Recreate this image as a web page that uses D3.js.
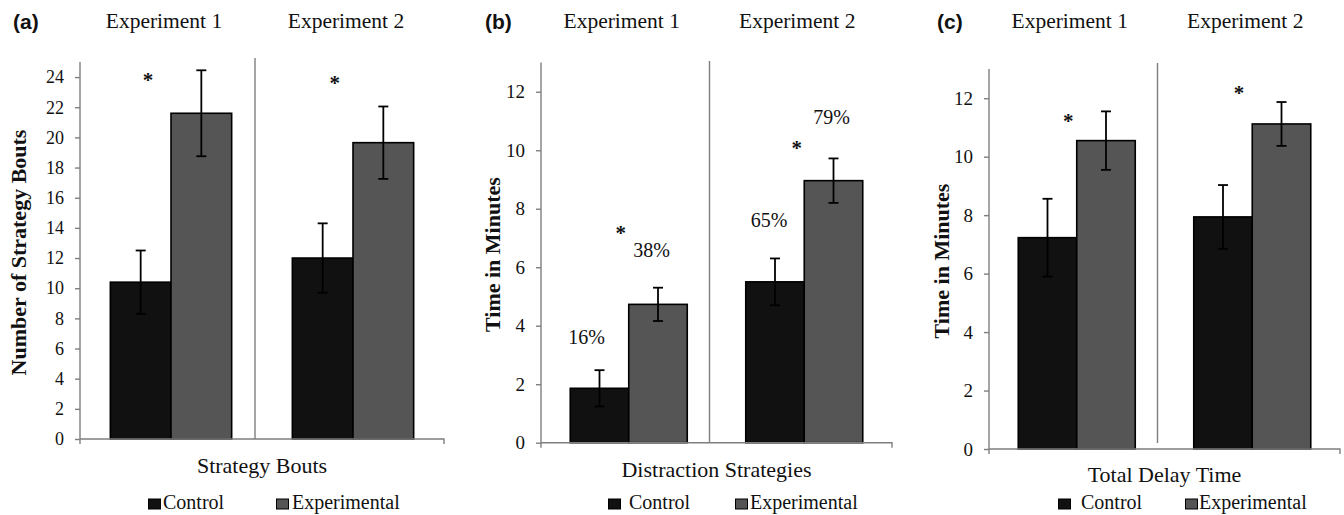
<!DOCTYPE html>
<html>
<head>
<meta charset="utf-8">
<script src="https://cdn.jsdelivr.net/npm/d3@7"></script>
<style>
  body { margin: 0; background: #fff; }
  svg { display: block; }
  text { font-family: "Liberation Serif", "Times New Roman", serif; fill: #111; }
</style>
</head>
<body>
<svg id="chart" width="1344" height="515"></svg>
<script>
var groups = ["Experiment 1", "Experiment 2"];
var series = ["Control", "Experimental"];

// (a) number of strategy bouts, [group][series]
var boutsMean = [[10.4, 21.6], [12.0, 19.65]];
var boutsErr = [[2.1, 2.85], [2.3, 2.4]];
var boutsTicks = d3.range(0, 25, 2);

// (b) time in distraction strategies (minutes)
var distrMean = [[1.86, 4.73], [5.5, 8.96]];
var distrErr = [[0.62, 0.57], [0.8, 0.76]];
var distrPct = [["16%", "38%"], ["65%", "79%"]];

// (c) total delay time (minutes)
var delayMean = [[7.23, 10.55], [7.94, 11.12]];
var delayErr = [[1.33, 1.0], [1.09, 0.75]];
var minuteTicks = d3.range(0, 13, 2);

var svg = d3.select("#chart");
var fills = ["#111111", "#555555"];

// layout per panel (pixels); annotation spots are [group, fraction of group step, y value]
var panels = [
  { letter: "(a)", letterX: 13, mean: boutsMean, err: boutsErr, ticks: boutsTicks, ymax: 25,
    x0: 80, x1: 444, yTop: 62, yBot: 439, tickSize: 18, divTop: 58, divBot: 439,
    ylabel: "Number of Strategy Bouts", ylabelX: 19, xlabel: "Strategy Bouts", xlabelY: 473,
    stars: [[0, 0.374, 24.1], [1, 0.40, 23.9]], legX: [148, 276], legGap: [2, 3] },
  { letter: "(b)", letterX: 485, mean: distrMean, err: distrErr, ticks: minuteTicks, ymax: 13,
    x0: 541, x1: 892, yTop: 62.5, yBot: 442.7, tickSize: 19, divTop: 61, divBot: 442.7,
    ylabel: "Time in Minutes", ylabelX: 493, xlabel: "Distraction Strategies", xlabelY: 477,
    stars: [[0, 0.454, 7.3], [1, 0.457, 10.2]], legX: [608, 735], legGap: [8, 2],
    pct: distrPct, pctSpots: [[[0, 0.26, 3.6], [0, 0.63, 6.6]], [[1, 0.30, 7.6], [1, 0.656, 11.15]]] },
  { letter: "(c)", letterX: 937, mean: delayMean, err: delayErr, ticks: minuteTicks, ymax: 13,
    x0: 989, x1: 1340, yTop: 69, yBot: 449, tickSize: 19, divTop: 63, divBot: 443,
    ylabel: "Time in Minutes", ylabelX: 942, xlabel: "Total Delay Time", xlabelY: 482,
    stars: [[0, 0.452, 11.36], [1, 0.424, 12.32]], legX: [1058, 1185], legGap: [10, 1] }
];

panels.forEach(drawPanel);

function drawPanel(p) {
  var g = svg.append("g");
  var y = d3.scaleLinear().domain([0, p.ymax]).range([p.yBot, p.yTop]);
  var x = d3.scaleBand().domain(groups).range([p.x0, p.x1]).paddingInner(1 / 3).paddingOuter(1 / 6);
  var xs = d3.scaleBand().domain(series).range([0, x.bandwidth()]);
  var step = (p.x1 - p.x0) / groups.length;
  var mid = (p.x0 + p.x1) / 2;

  // panel letter and experiment headings
  g.append("text").attr("x", p.letterX).attr("y", 29)
    .style("font-family", "'Liberation Sans', Arial, sans-serif")
    .style("font-weight", "bold").style("font-size", "21px").text(p.letter);
  g.selectAll(".head").data(groups).enter().append("text")
    .attr("x", function (d) { return x(d) + x.bandwidth() / 2 - 7; })
    .attr("y", 28).attr("text-anchor", "middle").style("font-size", "21.5px")
    .text(function (d) { return d; });

  // bars
  var rows = [];
  groups.forEach(function (gr, i) {
    series.forEach(function (s, j) {
      rows.push({ g: gr, s: s, j: j, v: p.mean[i][j], e: p.err[i][j] });
    });
  });
  g.selectAll("rect.bar").data(rows).enter().append("rect")
    .attr("x", function (d) { return x(d.g) + xs(d.s); })
    .attr("y", function (d) { return y(d.v); })
    .attr("width", xs.bandwidth())
    .attr("height", function (d) { return y(0) - y(d.v); })
    .attr("fill", function (d) { return fills[d.j]; })
    .attr("stroke", "#000").attr("stroke-width", 1.6);

  // error bars
  var eb = g.selectAll("g.err").data(rows).enter().append("g")
    .attr("stroke", "#000").attr("stroke-width", 1.8);
  function cx(d) { return x(d.g) + xs(d.s) + xs.bandwidth() / 2; }
  eb.append("line")
    .attr("x1", cx).attr("x2", cx)
    .attr("y1", function (d) { return y(d.v + d.e); })
    .attr("y2", function (d) { return y(d.v - d.e); });
  [1, -1].forEach(function (sign) {
    eb.append("line")
      .attr("x1", function (d) { return cx(d) - 5; })
      .attr("x2", function (d) { return cx(d) + 5; })
      .attr("y1", function (d) { return y(d.v + sign * d.e); })
      .attr("y2", function (d) { return y(d.v + sign * d.e); });
  });

  // axes
  var yAxis = g.append("g").attr("transform", "translate(" + p.x0 + ",0)")
    .call(d3.axisLeft(y).tickValues(p.ticks).tickSize(5).tickSizeOuter(0).tickPadding(11));
  yAxis.selectAll("line, path").attr("stroke", "#7f7f7f").attr("stroke-width", 1.4);
  yAxis.selectAll("text").style("font-size", p.tickSize + "px")
    .style("font-family", "'Liberation Serif', 'Times New Roman', serif").attr("fill", "#111");
  yAxis.select("path").attr("d", "M0," + y(p.ymax) + "V" + (y(0) + 5));

  g.append("path")
    .attr("d", "M" + p.x0 + "," + y(0) + "H" + p.x1 + "V" + (y(0) + 5))
    .attr("fill", "none").attr("stroke", "#7f7f7f").attr("stroke-width", 1.4);

  // divider between experiments
  g.append("line").attr("x1", mid - 7).attr("x2", mid - 7)
    .attr("y1", p.divTop).attr("y2", p.divBot)
    .attr("stroke", "#7f7f7f").attr("stroke-width", 1.4);

  // significance stars
  g.selectAll(".star").data(p.stars).enter().append("text")
    .attr("x", function (d) { return p.x0 + d[0] * step + d[1] * step; })
    .attr("y", function (d) { return y(d[2]) + 11; })
    .attr("text-anchor", "middle").style("font-size", "21px").style("font-weight", "bold")
    .text("*");

  // percentage labels
  if (p.pct) {
    var spots = [];
    p.pctSpots.forEach(function (row, i) {
      row.forEach(function (s, j) { spots.push({ s: s, t: p.pct[i][j] }); });
    });
    g.selectAll(".pct").data(spots).enter().append("text")
      .attr("x", function (d) { return p.x0 + d.s[0] * step + d.s[1] * step; })
      .attr("y", function (d) { return y(d.s[2]) + 7; })
      .attr("text-anchor", "middle").style("font-size", "20px")
      .text(function (d) { return d.t; });
  }

  // axis titles
  g.append("text")
    .attr("transform", "translate(" + (p.ylabelX + 7) + "," + ((p.yTop + p.yBot) / 2 + 2) + ") rotate(-90)")
    .attr("text-anchor", "middle").style("font-size", "22px").style("font-weight", "bold")
    .text(p.ylabel);
  g.append("text").attr("x", mid).attr("y", p.xlabelY)
    .attr("text-anchor", "middle").style("font-size", "22px").text(p.xlabel);

  // legend
  var leg = g.selectAll(".leg").data(series).enter().append("g")
    .attr("transform", function (d, i) { return "translate(" + p.legX[i] + ",0)"; });
  leg.append("rect").attr("x", 0.5).attr("y", 499).attr("width", 12).attr("height", 10)
    .attr("fill", function (d, i) { return fills[i]; })
    .attr("stroke", "#000").attr("stroke-width", 1);
  leg.append("text").attr("x", function (d, i) { return 13 + p.legGap[i]; }).attr("y", 509)
    .style("font-size", "20px").text(function (d) { return d; });
}
</script>
</body>
</html>
